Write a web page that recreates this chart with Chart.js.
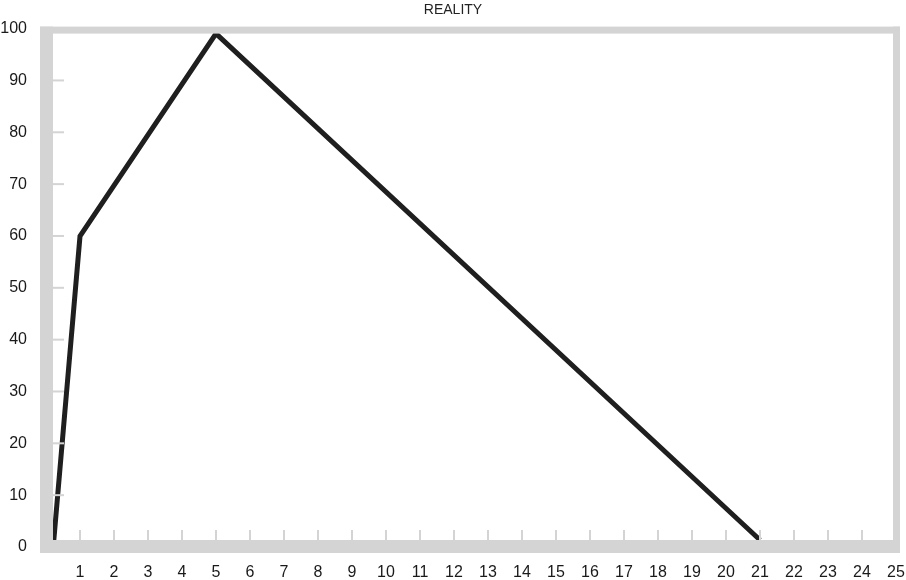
<!DOCTYPE html>
<html>
<head>
<meta charset="utf-8">
<script src="https://cdn.jsdelivr.net/npm/chart.js@4.4.1/dist/chart.umd.min.js"></script>
<style>
  html, body { margin: 0; padding: 0; background: #fff; }
  #wrap { width: 906px; height: 580px; }
</style>
</head>
<body>
<div id="wrap"><canvas id="myChart" width="906" height="580"></canvas></div>
<script>
// chart data
const chartTitle = 'REALITY';
const xValues = [0.23, 1, 5, 21];
const yValues = [0, 60, 100, 0];
const xTicks = [1, 2, 3, 4, 5, 6, 7, 8, 9, 10, 11, 12, 13, 14, 15, 16, 17, 18, 19, 20, 21, 22, 23, 24, 25];
const yTicks = [0, 10, 20, 30, 40, 50, 60, 70, 80, 90, 100];

const frameGray = '#d4d4d4';

// thick gray frame + short inward tick marks, drawn over the line
const framePlugin = {
    id: 'frame',
    afterDatasetsDraw(chart) {
        const ctx = chart.ctx;
        const a = chart.chartArea;
        const xs = chart.scales.x;
        const ys = chart.scales.y;
        ctx.save();
        ctx.fillStyle = frameGray;
        // left, top, right, bottom bars
        ctx.fillRect(a.left - 6, a.top - 2, 13, a.bottom - a.top + 8);
        ctx.fillRect(a.left - 6, a.top - 2, a.right - a.left + 10, 7);
        ctx.fillRect(a.right - 3, a.top - 2, 7, a.bottom - a.top + 8);
        ctx.fillRect(a.left - 6, a.bottom - 7, a.right - a.left + 10, 13);
        // tick marks
        xTicks.forEach(v => {
            const px = xs.getPixelForValue(v);
            if (px < a.right - 4) ctx.fillRect(px - 1, a.bottom - 17, 2, 10);
        });
        yTicks.forEach(v => {
            const py = ys.getPixelForValue(v);
            if (py > a.top + 6 && py < a.bottom - 8) ctx.fillRect(a.left + 7, py - 1, 11, 2);
        });
        ctx.restore();
    }
};

const ctx = document.getElementById('myChart').getContext('2d');
const myChart = new Chart(ctx, {
    type: 'line',
    data: {
        datasets: [{
            label: chartTitle,
            data: xValues.map((x, i) => ({ x: x, y: yValues[i] })),
            yAxisID: 'yData',
            borderColor: '#1f1f1f',
            borderWidth: 5,
            borderJoinStyle: 'miter',
            pointRadius: 0,
            tension: 0,
            fill: false
        }]
    },
    options: {
        responsive: false,
        animation: false,
        layout: { padding: { left: 0, right: 0, top: 0, bottom: 0 } },
        plugins: {
            legend: { display: false },
            tooltip: { enabled: false },
            title: {
                display: true,
                text: chartTitle,
                color: '#222',
                font: { family: '"Liberation Sans", Arial, sans-serif', size: 14, weight: 'normal' },
                padding: { top: 1, bottom: 10 }
            }
        },
        scales: {
            x: {
                type: 'linear',
                min: 0,
                max: 25,
                afterBuildTicks: (scale) => { scale.ticks = xTicks.map(v => ({ value: v })); },
                afterFit: (scale) => {
                    scale.height = 33;
                    scale.paddingLeft = 0;
                    scale.paddingRight = 10;
                },
                grid: { display: false, drawTicks: false },
                border: { display: false },
                ticks: {
                    color: '#1a1a1a',
                    padding: 16,
                    maxRotation: 0,
                    autoSkip: false,
                    font: { family: '"Liberation Sans", Arial, sans-serif', size: 16 }
                }
            },
            y: {
                min: 0,
                max: 100,
                afterBuildTicks: (scale) => { scale.ticks = yTicks.map(v => ({ value: v })); },
                afterFit: (scale) => { scale.width = 46; },
                grid: { display: false, drawTicks: false },
                border: { display: false },
                ticks: {
                    color: '#1a1a1a',
                    padding: 19,
                    font: { family: '"Liberation Sans", Arial, sans-serif', size: 16 }
                }
            },
            // the line sits inside the frame, a bit tighter than the tick labels
            yData: {
                type: 'linear',
                display: false,
                min: -1.38,
                max: 100.99
            }
        }
    },
    plugins: [framePlugin]
});
</script>
</body>
</html>
